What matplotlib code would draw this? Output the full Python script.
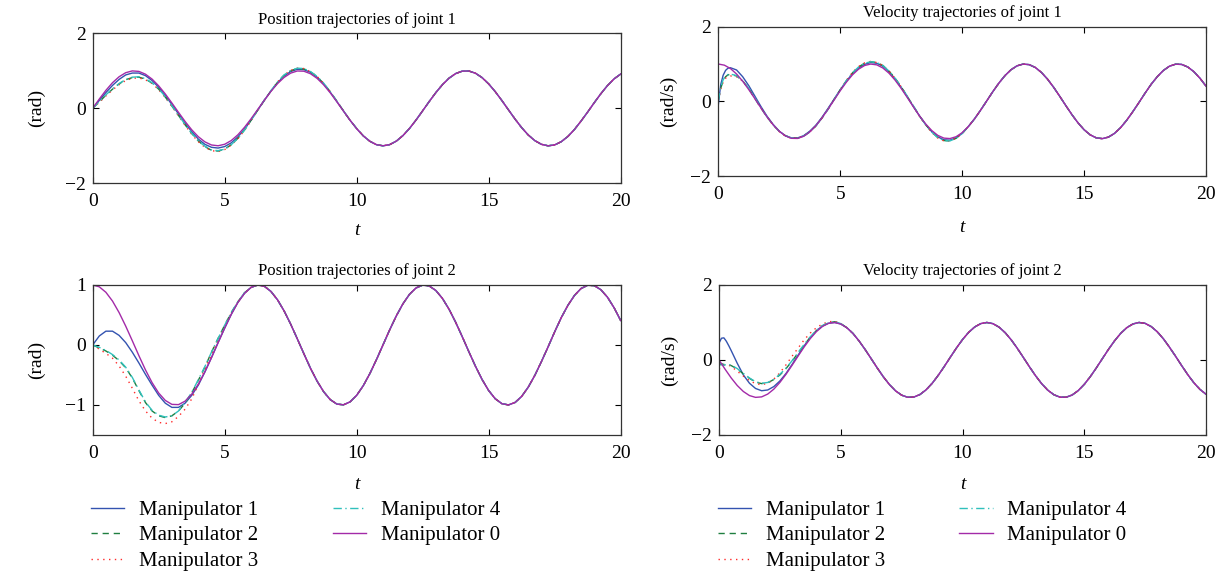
import numpy as np
import matplotlib
matplotlib.use("Agg")
import matplotlib.pyplot as plt

plt.rcParams['font.family'] = ['Liberation Serif', 'DejaVu Serif']
plt.rcParams['mathtext.fontset'] = 'stix'

# time grid of the reference (manipulator 0) curves
t = np.arange(0, 20.001, 0.25)
# time grids of the follower transients
t_pos = np.arange(0, 10.001, 0.25)
t_vel = np.r_[0.0, 0.1, 0.2, 0.3, 0.4, np.arange(0.5, 10.001, 0.25)]

# manipulator 0 (leader)
q1_ref = [0.000, 0.247, 0.479, 0.682, 0.841, 0.949, 0.997, 0.984, 0.909, 0.778,
          0.598, 0.382, 0.141, -0.108, -0.351, -0.572, -0.757, -0.895, -0.978, -0.999,
          -0.959, -0.859, -0.706, -0.508, -0.279, -0.033, 0.215, 0.450, 0.657, 0.823,
          0.938, 0.995, 0.989, 0.922, 0.798, 0.625, 0.412, 0.174, -0.075, -0.319,
          -0.544, -0.735, -0.880, -0.970, -1.000, -0.968, -0.876, -0.729, -0.537, -0.311,
          -0.066, 0.183, 0.420, 0.632, 0.804, 0.926, 0.991, 0.994, 0.935, 0.818,
          0.650, 0.443, 0.207, -0.042, -0.288, -0.516, -0.712, -0.863, -0.961, -1.000,
          -0.976, -0.890, -0.751, -0.564, -0.340, -0.099, 0.150, 0.390, 0.606, 0.784,
          0.913]
q2_ref = [1.000, 0.969, 0.878, 0.732, 0.540, 0.315, 0.071, -0.178, -0.416, -0.628,
          -0.801, -0.924, -0.990, -0.994, -0.936, -0.821, -0.654, -0.446, -0.211, 0.038,
          0.284, 0.512, 0.709, 0.861, 0.960, 0.999, 0.977, 0.893, 0.754, 0.568,
          0.347, 0.103, -0.146, -0.388, -0.602, -0.780, -0.911, -0.985, -0.997, -0.948,
          -0.839, -0.678, -0.476, -0.243, 0.004, 0.252, 0.483, 0.685, 0.844, 0.951,
          0.998, 0.983, 0.907, 0.775, 0.595, 0.378, 0.137, -0.113, -0.355, -0.575,
          -0.760, -0.897, -0.978, -0.999, -0.958, -0.857, -0.702, -0.505, -0.275, -0.032,
          0.219, 0.456, 0.660, 0.826, 0.941, 0.995, 0.989, 0.921, 0.796, 0.621,
          0.408]
dq1_ref = [1.000, 0.969, 0.878, 0.732, 0.540, 0.315, 0.071, -0.178, -0.416, -0.628,
           -0.801, -0.924, -0.990, -0.994, -0.936, -0.821, -0.654, -0.446, -0.211, 0.038,
           0.284, 0.512, 0.709, 0.861, 0.960, 0.999, 0.977, 0.893, 0.754, 0.568,
           0.347, 0.103, -0.146, -0.388, -0.602, -0.780, -0.911, -0.985, -0.997, -0.948,
           -0.839, -0.678, -0.476, -0.243, 0.004, 0.252, 0.483, 0.685, 0.844, 0.951,
           0.998, 0.983, 0.907, 0.775, 0.595, 0.378, 0.137, -0.113, -0.355, -0.575,
           -0.760, -0.897, -0.978, -0.999, -0.958, -0.857, -0.702, -0.505, -0.275, -0.032,
           0.219, 0.456, 0.660, 0.826, 0.941, 0.995, 0.989, 0.921, 0.796, 0.621,
           0.408]
dq2_ref = [0.000, -0.247, -0.479, -0.682, -0.841, -0.949, -0.997, -0.984, -0.909, -0.778,
           -0.598, -0.382, -0.141, 0.108, 0.351, 0.572, 0.757, 0.895, 0.978, 0.999,
           0.959, 0.859, 0.706, 0.508, 0.279, 0.033, -0.215, -0.450, -0.657, -0.823,
           -0.938, -0.995, -0.989, -0.922, -0.798, -0.625, -0.412, -0.174, 0.075, 0.319,
           0.544, 0.735, 0.880, 0.970, 1.000, 0.968, 0.876, 0.729, 0.537, 0.311,
           0.066, -0.183, -0.420, -0.632, -0.804, -0.926, -0.991, -0.994, -0.935, -0.818,
           -0.650, -0.443, -0.207, 0.042, 0.288, 0.516, 0.712, 0.863, 0.961, 1.000,
           0.976, 0.890, 0.751, 0.564, 0.340, 0.099, -0.150, -0.390, -0.606, -0.784,
           -0.913]

# position of joint 1, manipulators 1-4 (on t_pos)
q1_m1 = [0.00, 0.21, 0.42, 0.61, 0.77, 0.89, 0.94, 0.94, 0.87, 0.74,
         0.56, 0.34, 0.10, -0.15, -0.40, -0.62, -0.82, -0.96, -1.04, -1.06,
         -1.02, -0.92, -0.76, -0.56, -0.31, -0.05, 0.21, 0.46, 0.68, 0.86,
         0.98, 1.04, 1.03, 0.96, 0.83, 0.65, 0.43, 0.18, -0.07, -0.32, -0.54]
q1_m2 = [0.00, 0.17, 0.35, 0.51, 0.65, 0.76, 0.82, 0.83, 0.78, 0.67,
         0.51, 0.30, 0.06, -0.19, -0.44, -0.67, -0.87, -1.02, -1.12, -1.14,
         -1.09, -0.97, -0.80, -0.58, -0.32, -0.05, 0.21, 0.46, 0.69, 0.88,
         1.00, 1.06, 1.05, 0.97, 0.84, 0.66, 0.44, 0.19, -0.07, -0.32, -0.54]
q1_m3 = [0.00, 0.16, 0.33, 0.49, 0.63, 0.74, 0.80, 0.81, 0.76, 0.66,
         0.50, 0.29, 0.05, -0.20, -0.45, -0.69, -0.89, -1.04, -1.13, -1.15,
         -1.10, -0.98, -0.81, -0.59, -0.33, -0.06, 0.21, 0.46, 0.70, 0.89,
         1.01, 1.07, 1.06, 0.98, 0.85, 0.66, 0.44, 0.19, -0.07, -0.32, -0.54]
q1_m4 = [0.00, 0.18, 0.36, 0.52, 0.66, 0.77, 0.83, 0.84, 0.79, 0.68,
         0.52, 0.31, 0.07, -0.18, -0.43, -0.66, -0.86, -1.01, -1.11, -1.13,
         -1.09, -0.97, -0.80, -0.58, -0.32, -0.05, 0.22, 0.47, 0.70, 0.89,
         1.01, 1.07, 1.06, 0.98, 0.85, 0.67, 0.44, 0.19, -0.07, -0.32, -0.54]

# position of joint 2, manipulators 1-4 (on t_pos, until they join)
q2_m1 = [0.00, 0.15, 0.23, 0.23, 0.16, 0.04, -0.12, -0.30, -0.49, -0.67,
         -0.84, -0.97, -1.04, -1.04, -0.97, -0.84, -0.67, -0.45, -0.21, 0.04,
         0.28, 0.51, 0.71, 0.86, 0.96, 1.00, 0.98]
q2_m2 = [0.00, -0.05, -0.10, -0.17, -0.26, -0.38, -0.55, -0.76, -0.96, -1.10,
         -1.18, -1.21, -1.18, -1.10, -0.97, -0.80, -0.59, -0.37, -0.12, 0.11,
         0.33, 0.54, 0.72, 0.87, 0.96, 1.00, 0.98]
q2_m3 = [0.00, -0.07, -0.14, -0.22, -0.35, -0.52, -0.72, -0.93, -1.10, -1.22,
         -1.29, -1.31, -1.28, -1.19, -1.07, -0.90, -0.66, -0.41, -0.16, 0.09,
         0.32, 0.53, 0.71, 0.86, 0.96, 1.00, 0.98]
q2_m4 = [0.00, -0.04, -0.09, -0.16, -0.25, -0.37, -0.54, -0.75, -0.95, -1.09,
         -1.17, -1.20, -1.18, -1.10, -0.96, -0.79, -0.58, -0.36, -0.12, 0.11,
         0.33, 0.54, 0.72, 0.87, 0.96, 1.00, 0.98]

# velocity of joint 1, manipulators 1-4 (on t_vel)
dq1_m1 = [-0.10, 0.45, 0.70, 0.83, 0.89,
          0.90, 0.84, 0.66, 0.42, 0.14, -0.14, -0.40, -0.62, -0.80, -0.92,
          -0.98, -0.98, -0.92, -0.80, -0.64, -0.43, -0.19, 0.06, 0.31, 0.54,
          0.74, 0.89, 0.99, 1.04, 1.02, 0.94, 0.79, 0.60, 0.37, 0.12,
          -0.14, -0.39, -0.62, -0.81, -0.95, -1.03, -1.04, -0.98, -0.86]
dq1_m2 = [0.05, 0.35, 0.55, 0.66, 0.71,
          0.72, 0.68, 0.55, 0.34, 0.08, -0.18, -0.42, -0.63, -0.80, -0.92,
          -0.98, -0.99, -0.93, -0.82, -0.66, -0.45, -0.21, 0.05, 0.31, 0.55,
          0.76, 0.92, 1.02, 1.06, 1.04, 0.96, 0.81, 0.62, 0.39, 0.13,
          -0.13, -0.39, -0.62, -0.82, -0.97, -1.05, -1.06, -0.99, -0.86]
dq1_m3 = [0.02, 0.33, 0.52, 0.62, 0.67,
          0.68, 0.66, 0.54, 0.33, 0.08, -0.18, -0.42, -0.64, -0.81, -0.93,
          -0.99, -0.99, -0.93, -0.82, -0.66, -0.45, -0.21, 0.05, 0.31, 0.56,
          0.77, 0.93, 1.03, 1.07, 1.04, 0.96, 0.81, 0.62, 0.39, 0.13,
          -0.13, -0.40, -0.63, -0.83, -0.98, -1.06, -1.06, -0.99, -0.86]
dq1_m4 = [0.00, 0.38, 0.58, 0.68, 0.72,
          0.73, 0.69, 0.55, 0.35, 0.09, -0.17, -0.42, -0.63, -0.80, -0.92,
          -0.98, -0.99, -0.93, -0.82, -0.66, -0.45, -0.21, 0.05, 0.31, 0.55,
          0.76, 0.92, 1.02, 1.06, 1.04, 0.96, 0.81, 0.62, 0.39, 0.14,
          -0.12, -0.38, -0.62, -0.82, -0.97, -1.05, -1.06, -0.99, -0.86]

# velocity of joint 2, manipulators 1-4 (on t_vel, until they join)
dq2_m1 = [0.45, 0.58, 0.59, 0.50, 0.38,
          0.25, -0.09, -0.40, -0.62, -0.76, -0.82, -0.80, -0.71, -0.56, -0.36,
          -0.12, 0.13, 0.38, 0.60, 0.78, 0.91, 0.98, 1.00, 0.96, 0.86, 0.71]
dq2_m2 = [-0.15, -0.10, -0.12, -0.12, -0.13,
          -0.15, -0.24, -0.37, -0.49, -0.59, -0.63, -0.61, -0.52, -0.40, -0.23,
          -0.03, 0.19, 0.40, 0.61, 0.78, 0.91, 0.99, 1.02, 0.97, 0.86, 0.71]
dq2_m3 = [-0.25, -0.18, -0.14, -0.13, -0.14,
          -0.17, -0.30, -0.43, -0.55, -0.63, -0.66, -0.62, -0.51, -0.34, -0.13,
          0.10, 0.32, 0.54, 0.72, 0.86, 0.96, 1.02, 1.03, 0.97, 0.86, 0.71]
dq2_m4 = [-0.05, -0.13, -0.14, -0.12, -0.12,
          -0.14, -0.23, -0.36, -0.48, -0.58, -0.62, -0.60, -0.52, -0.38, -0.22,
          -0.02, 0.20, 0.42, 0.62, 0.79, 0.92, 0.99, 1.02, 0.97, 0.86, 0.71]

names = ['Manipulator 1', 'Manipulator 2', 'Manipulator 3', 'Manipulator 4', 'Manipulator 0']
colors = ['#3353b0', '#1f7f40', '#ff2a2a', '#30c0bc', '#a32aa8']
styles = ['-', (0, (4.5, 3.5)), (0, (1, 3.2)), (0, (6, 2.5, 1, 2.5)), '-']


def follower(t_tr, vals, ref):
    n = len(vals)
    ref = np.asarray(ref)
    tail = t > t_tr[n - 1] + 1e-9
    return np.r_[t_tr[:n], t[tail]], np.r_[vals, ref[tail]]


def draw(ax, t_tr, fol, ref, title, ylabel, ylim, yticks):
    lines = []
    for k in range(4):
        tt, yy = follower(t_tr, fol[k], ref)
        l, = ax.plot(tt, yy, color=colors[k], linestyle=styles[k], lw=1.0)
        lines.append(l)
    l, = ax.plot(t, ref, color=colors[4], linestyle=styles[4], lw=1.0)
    lines.append(l)
    ax.set_xlim(0, 20)
    ax.set_ylim(*ylim)
    ax.set_xticks([0, 5, 10, 15, 20])
    ax.set_yticks(yticks)
    ax.tick_params(direction='in', top=True, right=True, length=4, width=0.8,
                   labelsize=14)
    ax.tick_params(axis='x', pad=7)
    ax.tick_params(axis='y', pad=5)
    for s in ax.spines.values():
        s.set_color('#333333')
        s.set_linewidth(0.9)
    ax.set_title(title, fontsize=12, pad=7)
    ax.set_ylabel(ylabel, fontsize=14)
    ax.set_xlabel('t', fontsize=14, style='italic')
    return lines


fig = plt.figure(figsize=(12.31, 5.75), dpi=100)
ax1 = fig.add_axes([0.0753, 0.6812, 0.4289, 0.2609])
ax2 = fig.add_axes([0.5835, 0.6939, 0.3962, 0.2597])
ax3 = fig.add_axes([0.0753, 0.2435, 0.4289, 0.2609])
ax4 = fig.add_axes([0.5841, 0.2435, 0.3956, 0.2609])

draw(ax1, t_pos, [q1_m1, q1_m2, q1_m3, q1_m4], q1_ref,
     'Position trajectories of joint 1', '(rad)', (-2, 2), [-2, 0, 2])
draw(ax2, t_vel, [dq1_m1, dq1_m2, dq1_m3, dq1_m4], dq1_ref,
     'Velocity trajectories of joint 1', '(rad/s)', (-2, 2), [-2, 0, 2])
lines_l = draw(ax3, t_pos, [q2_m1, q2_m2, q2_m3, q2_m4], q2_ref,
               'Position trajectories of joint 2', '(rad)', (-1.5, 1), [-1, 0, 1])
lines_r = draw(ax4, t_vel, [dq2_m1, dq2_m2, dq2_m3, dq2_m4], dq2_ref,
               'Velocity trajectories of joint 2', '(rad/s)', (-2, 2), [-2, 0, 2])

ax1.yaxis.set_label_coords(-0.090, 0.5)
ax3.yaxis.set_label_coords(-0.090, 0.5)
ax2.yaxis.set_label_coords(-0.085, 0.5)
ax4.yaxis.set_label_coords(-0.085, 0.5)
ax1.xaxis.set_label_coords(0.5, -0.26)
ax2.xaxis.set_label_coords(0.5, -0.287)
ax3.xaxis.set_label_coords(0.5, -0.273)
ax4.xaxis.set_label_coords(0.5, -0.273)

for ax, lines, x0 in [(ax3, lines_l, 0.074), (ax4, lines_r, 0.583)]:
    ax.legend(lines, names, ncol=2, loc='upper left', bbox_to_anchor=(x0, 0.130),
              bbox_transform=fig.transFigure, frameon=False, fontsize=15,
              handlelength=1.6, handletextpad=0.7, columnspacing=3.57,
              labelspacing=0.29, borderpad=0, borderaxespad=0)

fig.savefig('out.png', dpi=100)
